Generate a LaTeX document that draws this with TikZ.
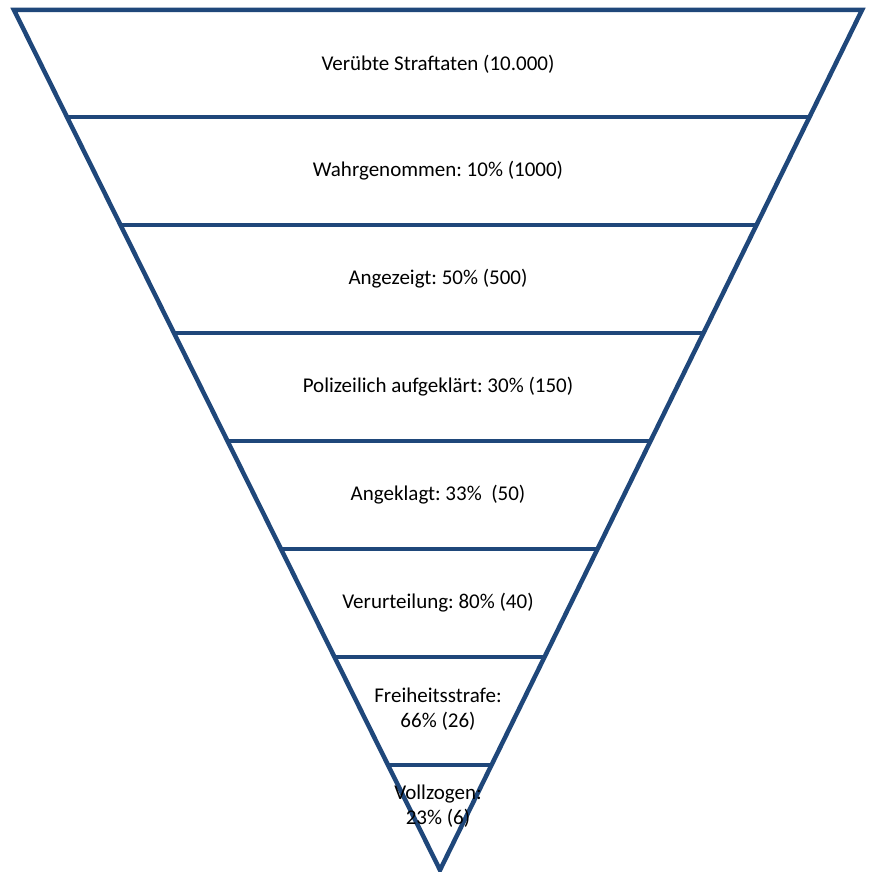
\documentclass[tikz,border=0pt]{standalone}
\usepackage{fontspec}
\setmainfont{Carlito}
\frenchspacing
\usetikzlibrary{calc}
\definecolor{funnelblue}{RGB}{31,71,122}
\begin{document}
\begin{tikzpicture}[x=1pt, y=-1pt,
        funnel/.style = {draw = funnelblue, line width = 4.5pt},
        stage/.style = {align = center, font = {\fontsize{21}{25}\selectfont}}]
        \useasboundingbox (0,0) rectangle (868,872);
        \coordinate (tl) at (14,10);
        \coordinate (tr) at (862,10);
        \coordinate (apex) at (440,870);
        \draw[funnel, line join = miter] (tl) -- (tr) -- (apex) -- cycle;
        \foreach \y in {117, 225, ..., 765} {
            \draw[funnel] ($(tl)!{(\y-10)/860}!(apex)$) -- ($(tr)!{(\y-10)/860}!(apex)$);
        }
        \begin{scope}[every node/.append style = {stage}]
            \node (veruebt) at (438,64) {Verübte Straftaten (10.000)};
            \node (wahr) at (438,171) {Wahrgenommen: 10\% (1000)};
            \node (angezeigt) at (438,279) {Angezeigt: 50\% (500)};
            \node (polizei) at (438,387) {Polizeilich aufgeklärt: 30\% (150)};
            \node (angeklagt) at (438,495) {Angeklagt: 33\%\ \ (50)};
            \node (verurteilt) at (438,603) {Verurteilung: 80\% (40)};
            \node (freiheit) at (438,709) {Freiheitsstrafe:\\66\% (26)};
            \node (vollzogen) at (438,806) {Vollzogen:\\23\% (6)};
        \end{scope}
    \end{tikzpicture}
\end{document}
